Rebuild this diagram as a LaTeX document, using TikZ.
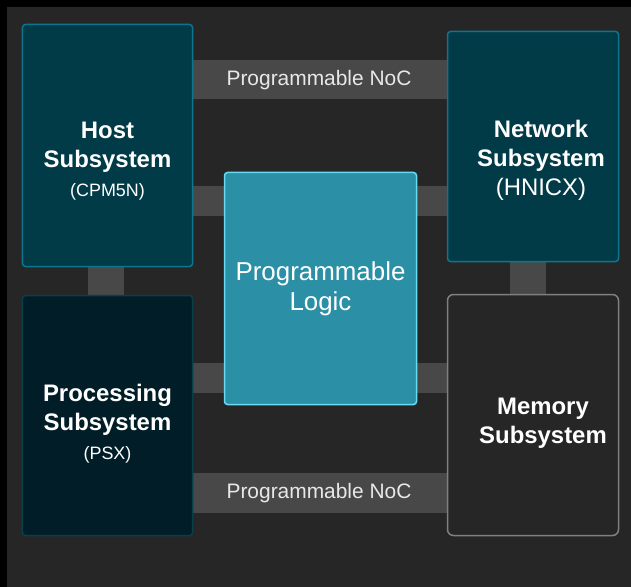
\documentclass[tikz,border=0pt]{standalone}
\usepackage{fontspec}
\setmainfont{Liberation Sans}
\usetikzlibrary{backgrounds}

\definecolor{pagegray}{RGB}{38,38,38}
\definecolor{busgray}{RGB}{72,72,72}
\definecolor{hostfill}{RGB}{2,59,72}
\definecolor{hostedge}{RGB}{12,118,143}
\definecolor{psfill}{RGB}{1,30,40}
\definecolor{psedge}{RGB}{9,62,77}
\definecolor{plfill}{RGB}{43,143,166}
\definecolor{pledge}{RGB}{105,218,244}
\definecolor{memedge}{RGB}{128,128,128}
\definecolor{noctext}{RGB}{232,232,232}

\tikzset{block/.style={rectangle,rounded corners=3bp,line width=1.5bp,inner sep=0pt},
  tealblock/.style={block,draw=hostedge,fill=hostfill},
  psblock/.style={block,draw=psedge,fill=psfill},
  plblock/.style={block,draw=pledge,fill=plfill},
  memblock/.style={block,rounded corners=6bp,draw=memedge,fill=pagegray},
  bus/.style={busgray,line width=#1},
  bold/.style={text=white,align=center,font=\fontsize{24}{29}\selectfont\bfseries},
  noc/.style={text=noctext,font=\fontsize{21}{24}\selectfont}}

\begin{document}
\begin{tikzpicture}[x=1bp,y=-1bp]
    \useasboundingbox (0,0) rectangle (631,587);
    \node[tealblock,minimum width=170bp,minimum height=242bp] (host) at (107.5,145.5) {};
    \node[psblock,minimum width=170bp,minimum height=240bp] (ps) at (107.5,415.5) {};
    \node[tealblock,minimum width=171bp,minimum height=230bp] (net) at (533,146.5) {};
    \node[memblock,minimum width=171bp,minimum height=241bp] (mem) at (533,415) {};
    \node[plblock,minimum width=192bp,minimum height=232bp] (pl) at (320.5,288.5) {};
    \begin{scope}[on background layer]
        \fill (0,0) rectangle (631,587);
        \fill[pagegray] (7,7) rectangle (631,587);
        \draw[bus=39bp] (host.east |- 0,79.5) -- (net.west |- 0,79.5);
        \draw[bus=40bp] (ps.east |- 0,493) -- (mem.west |- 0,493);
        \draw[bus=30bp] (host.east |- 0,201) -- (pl.west |- 0,201);
        \draw[bus=30bp] (pl.east |- 0,201) -- (net.west |- 0,201);
        \draw[bus=30bp] (ps.east |- 0,378) -- (pl.west |- 0,378);
        \draw[bus=30bp] (pl.east |- 0,378) -- (mem.west |- 0,378);
        \draw[bus=36bp] (host.south -| 106,0) -- (ps.north -| 106,0);
        \draw[bus=36bp] (net.south -| 528,0) -- (mem.north -| 528,0);
    \end{scope}
    \node[noc] (nocup) at (319,80) {Programmable NoC};
    \node[noc] (nocdown) at (319,493) {Programmable NoC};
    \node[bold] (hosttext) at (107.5,161) {Host\\Subsystem\\{\mdseries\fontsize{18}{29}\selectfont (CPM5N)}};
    \node[bold] (nettext) at (541,160) {Network\\Subsystem\\{\mdseries (HNICX)}};
    \node[bold] (pstext) at (107.5,424) {Processing\\Subsystem\\{\mdseries\fontsize{18}{29}\selectfont (PSX)}};
    \node[bold] (memtext) at (543,423) {Memory\\Subsystem};
    \node[text=white,align=center,font=\fontsize{26}{30}\selectfont] (pltext) at (320.5,289) {Programmable\\Logic};
\end{tikzpicture}
\end{document}
